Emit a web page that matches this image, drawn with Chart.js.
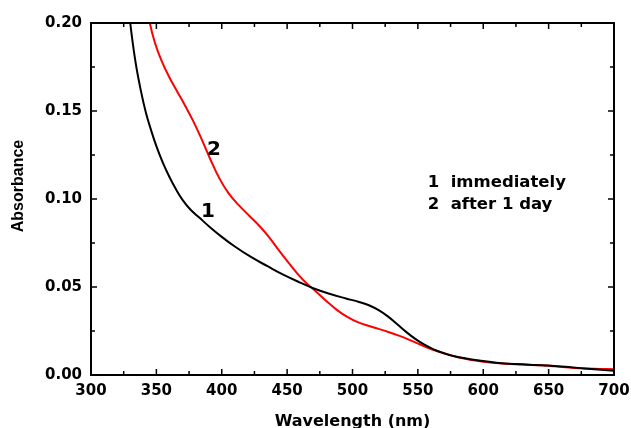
<!DOCTYPE html>
<html>
<head>
<meta charset="utf-8">
<script src="https://cdn.jsdelivr.net/npm/chart.js@4"></script>
<style>
  html, body { margin: 0; padding: 0; background: #fff; overflow: hidden; }
</style>
</head>
<body>
<canvas id="spectra" width="631" height="428"></canvas>
<script>
// curve 1: measured immediately (starts just above the top of the axis, gets clipped)
const wl1 = [327, 330, 334, 338, 342, 346, 350, 355, 360, 365, 370, 376, 383, 391, 400, 410, 422, 435, 447, 460, 471, 483, 495, 505, 513, 520, 527, 534, 541, 548, 555, 562, 570, 578, 587, 597, 610, 625, 640, 650, 665, 680, 700];
const abs1 = [0.222, 0.200, 0.178, 0.162, 0.149, 0.139, 0.130, 0.1205, 0.1125, 0.1055, 0.0995, 0.0940, 0.0893, 0.0840, 0.0785, 0.0730, 0.0672, 0.0618, 0.0570, 0.0525, 0.0490, 0.0460, 0.0435, 0.0415, 0.0395, 0.0368, 0.0333, 0.0290, 0.0245, 0.0205, 0.0172, 0.0146, 0.0124, 0.0107, 0.0094, 0.0082, 0.0070, 0.0062, 0.0057, 0.0054, 0.0045, 0.0036, 0.0024];

// curve 2: after 1 day
const wl2 = [342, 345, 349, 354, 360, 366, 372, 378, 384, 391, 398, 405, 413, 421, 429, 436, 443, 450, 458, 465, 472, 480, 488, 496, 504, 512, 520, 528, 536, 544, 552, 560, 570, 580, 590, 600, 615, 630, 645, 655, 670, 685, 700];
const abs2 = [0.214, 0.200, 0.1885, 0.1785, 0.1690, 0.1610, 0.1530, 0.1445, 0.1350, 0.1230, 0.1120, 0.1035, 0.0965, 0.0905, 0.0845, 0.0785, 0.0715, 0.0648, 0.0575, 0.0520, 0.0475, 0.0420, 0.0370, 0.0330, 0.0300, 0.0280, 0.0262, 0.0243, 0.0222, 0.0198, 0.0172, 0.0148, 0.0123, 0.0102, 0.0086, 0.0075, 0.0065, 0.0059, 0.0055, 0.0049, 0.0040, 0.0035, 0.0033];

const xTicks = [300, 350, 400, 450, 500, 550, 600, 650, 700];
const yTicks = [0, 0.05, 0.10, 0.15, 0.20];
const xTitle = "Wavelength (nm)";
const yTitle = "Absorbance";
const legendLines = ["1  immediately", "2  after 1 day"];

const toPoints = (xs, ys) => xs.map((x, i) => ({ x: x, y: ys[i] }));

// box round the plot with inward major + minor ticks, axis titles and text labels
const framePlugin = {
    id: "frame",
    afterDraw(chart) {
        const { ctx, chartArea: a, scales: { x, y } } = chart;
        ctx.save();
        ctx.strokeStyle = "#000";
        ctx.lineWidth = 2;
        ctx.strokeRect(a.left, a.top, a.right - a.left, a.bottom - a.top);

        ctx.lineWidth = 1.5;
        ctx.beginPath();
        for (let i = 0; i < xTicks.length; i++) {
            const px = x.getPixelForValue(xTicks[i]);
            ctx.moveTo(px, a.bottom); ctx.lineTo(px, a.bottom - 6);
            ctx.moveTo(px, a.top); ctx.lineTo(px, a.top + 6);
            if (i < xTicks.length - 1) {
                const mx = x.getPixelForValue((xTicks[i] + xTicks[i + 1]) / 2);
                ctx.moveTo(mx, a.bottom); ctx.lineTo(mx, a.bottom - 4);
                ctx.moveTo(mx, a.top); ctx.lineTo(mx, a.top + 4);
            }
        }
        for (let i = 0; i < yTicks.length; i++) {
            const py = y.getPixelForValue(yTicks[i]);
            ctx.moveTo(a.left, py); ctx.lineTo(a.left + 6, py);
            ctx.moveTo(a.right, py); ctx.lineTo(a.right - 6, py);
            if (i < yTicks.length - 1) {
                const my = y.getPixelForValue((yTicks[i] + yTicks[i + 1]) / 2);
                ctx.moveTo(a.left, my); ctx.lineTo(a.left + 4, my);
                ctx.moveTo(a.right, my); ctx.lineTo(a.right - 4, my);
            }
        }
        ctx.stroke();

        ctx.fillStyle = "#000";
        ctx.textBaseline = "middle";
        ctx.textAlign = "center";

        // axis titles
        ctx.font = "bold 16px 'DejaVu Sans'";
        ctx.fillText(xTitle, (a.left + a.right) / 2, 422);
        ctx.save();
        ctx.translate(19, 186);
        ctx.rotate(-Math.PI / 2);
        ctx.font = "bold 16px 'Liberation Sans'";
        ctx.fillText(yTitle, 0, 0);
        ctx.restore();

        // curve numbers
        ctx.font = "bold 20px 'DejaVu Sans'";
        ctx.fillText("1", x.getPixelForValue(389.5), y.getPixelForValue(0.0925));
        ctx.fillText("2", x.getPixelForValue(394), y.getPixelForValue(0.128));

        ctx.textAlign = "left";
        ctx.font = "bold 16.5px 'DejaVu Sans'";
        ctx.fillText(legendLines[0], x.getPixelForValue(557.5), y.getPixelForValue(0.1095));
        ctx.fillText(legendLines[1], x.getPixelForValue(557.5), y.getPixelForValue(0.0968));
        ctx.restore();
    }
};

const ctx = document.getElementById("spectra").getContext("2d");
const chart = new Chart(ctx, {
    type: "line",
    data: {
        datasets: [
            {
                label: "1",
                data: toPoints(wl1, abs1),
                borderColor: "#000000",
                borderWidth: 2,
                pointRadius: 0,
                tension: 0.4
            },
            {
                label: "2",
                data: toPoints(wl2, abs2),
                borderColor: "#ff0000",
                borderWidth: 2,
                pointRadius: 0,
                tension: 0.4
            }
        ]
    },
    options: {
        responsive: false,
        animation: false,
        layout: { padding: { left: 0, right: 17, top: 23, bottom: 0 } },
        plugins: {
            legend: { display: false },
            tooltip: { enabled: false }
        },
        scales: {
            x: {
                type: "linear",
                min: 300,
                max: 700,
                afterBuildTicks: (s) => { s.ticks = xTicks.map(v => ({ value: v })); },
                afterFit: (s) => { s.height = 53; s.paddingLeft = 0; s.paddingRight = 0; },
                grid: { display: false, drawTicks: false },
                border: { display: false },
                ticks: {
                    color: "#000",
                    padding: 7,
                    maxRotation: 0,
                    font: { family: "'DejaVu Sans'", size: 15, weight: "bold" }
                }
            },
            y: {
                min: 0,
                max: 0.2,
                afterBuildTicks: (s) => { s.ticks = yTicks.map(v => ({ value: v })); },
                afterFit: (s) => { s.width = 91; s.paddingTop = 0; s.paddingBottom = 0; },
                grid: { display: false, drawTicks: false },
                border: { display: false },
                ticks: {
                    color: "#000",
                    padding: 9,
                    callback: (v) => v.toFixed(2),
                    font: { family: "'DejaVu Sans'", size: 15, weight: "bold" }
                }
            }
        }
    },
    plugins: [framePlugin]
});
</script>
</body>
</html>
